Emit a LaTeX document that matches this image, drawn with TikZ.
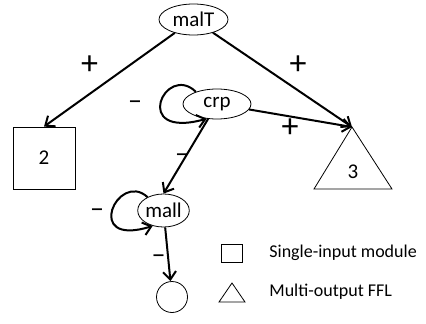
\documentclass[tikz,border=0pt]{standalone}
\usepackage{fontspec}
\setmainfont{Carlito}
\usetikzlibrary{arrows.meta,positioning,shapes.geometric}

\begin{document}
\begin{tikzpicture}[
    x=1pt, y=-1pt,
    line width=0.8pt,
    every node/.style={font=\fontsize{21}{25}\selectfont},
    gene/.style={ellipse, draw, inner sep=0pt},
    sim/.style={rectangle, draw, minimum size=62pt, inner sep=0pt},
    arr/.style={-{Straight Barb[length=8pt, width=13pt]}, line width=2pt},
    plus/.style={inner sep=0pt, font=\fontsize{34}{36}\selectfont},
    minus/.style={inner sep=0pt, font=\fontsize{28}{30}\selectfont},
    keytext/.style={anchor=west, inner sep=0pt, font=\fontsize{18}{22}\selectfont}
]
    \useasboundingbox (0,0) rectangle (426,324);

    % Genes
    \node[gene, minimum width=69pt, minimum height=31pt] (malT) at (193.5,19.5) {malT};
    \node[gene, minimum width=68pt, minimum height=30pt] (crp) at (217,104) {crp};
    \node[gene, minimum width=51pt, minimum height=33pt] (mall) at (163.5,210.5) {mall};
    \node[circle, draw, minimum size=31pt, inner sep=0pt] (out) at (172,297) {};

    % Motifs
    \node[sim] (sim) at (44,158) {2};
    \draw (352,127) -- (392,189) -- (314,189) -- cycle;
    \coordinate (ffltop) at (352,127);
    \node (ffl) at (353,172) {3};

    % Edges
    \draw[arr] (malT) -- (sim.north);
    \draw[arr] (malT) -- (ffltop);
    \draw[arr] (crp) -- (ffltop);
    \draw[arr] (crp) -- (mall.north);
    \draw[arr] (mall) -- (out);
    \draw[arr] (crp.150) .. controls (165,62) and (130,140) .. (crp.235);
    \draw[arr] (mall.140) .. controls (118,170) and (82,248) .. (mall.235);

    % Signs
    \node[plus] (s1) at (89.5,65) {+};
    \node[plus] (s2) at (298,65) {+};
    \node[plus] (s3) at (290,128) {+};
    \node[minus] (s4) at (135,105) {–};
    \node[minus] (s5) at (182,158) {–};
    \node[minus] (s6) at (97,213) {–};
    \node[minus] (s7) at (158.5,259) {–};

    % Legend
    \node[rectangle, draw, minimum width=21pt, minimum height=18pt, inner sep=0pt] (keysim) at (231.5,253) {};
    \node[keytext] (keysimtxt) at (269,253) {Single-input module};
    \draw (232,283) -- (245,302) -- (219,302) -- cycle;
    \coordinate (keyffl) at (232,292);
    \node[keytext] (keyffltxt) at (269,292) {Multi-output FFL};
\end{tikzpicture}
\end{document}
